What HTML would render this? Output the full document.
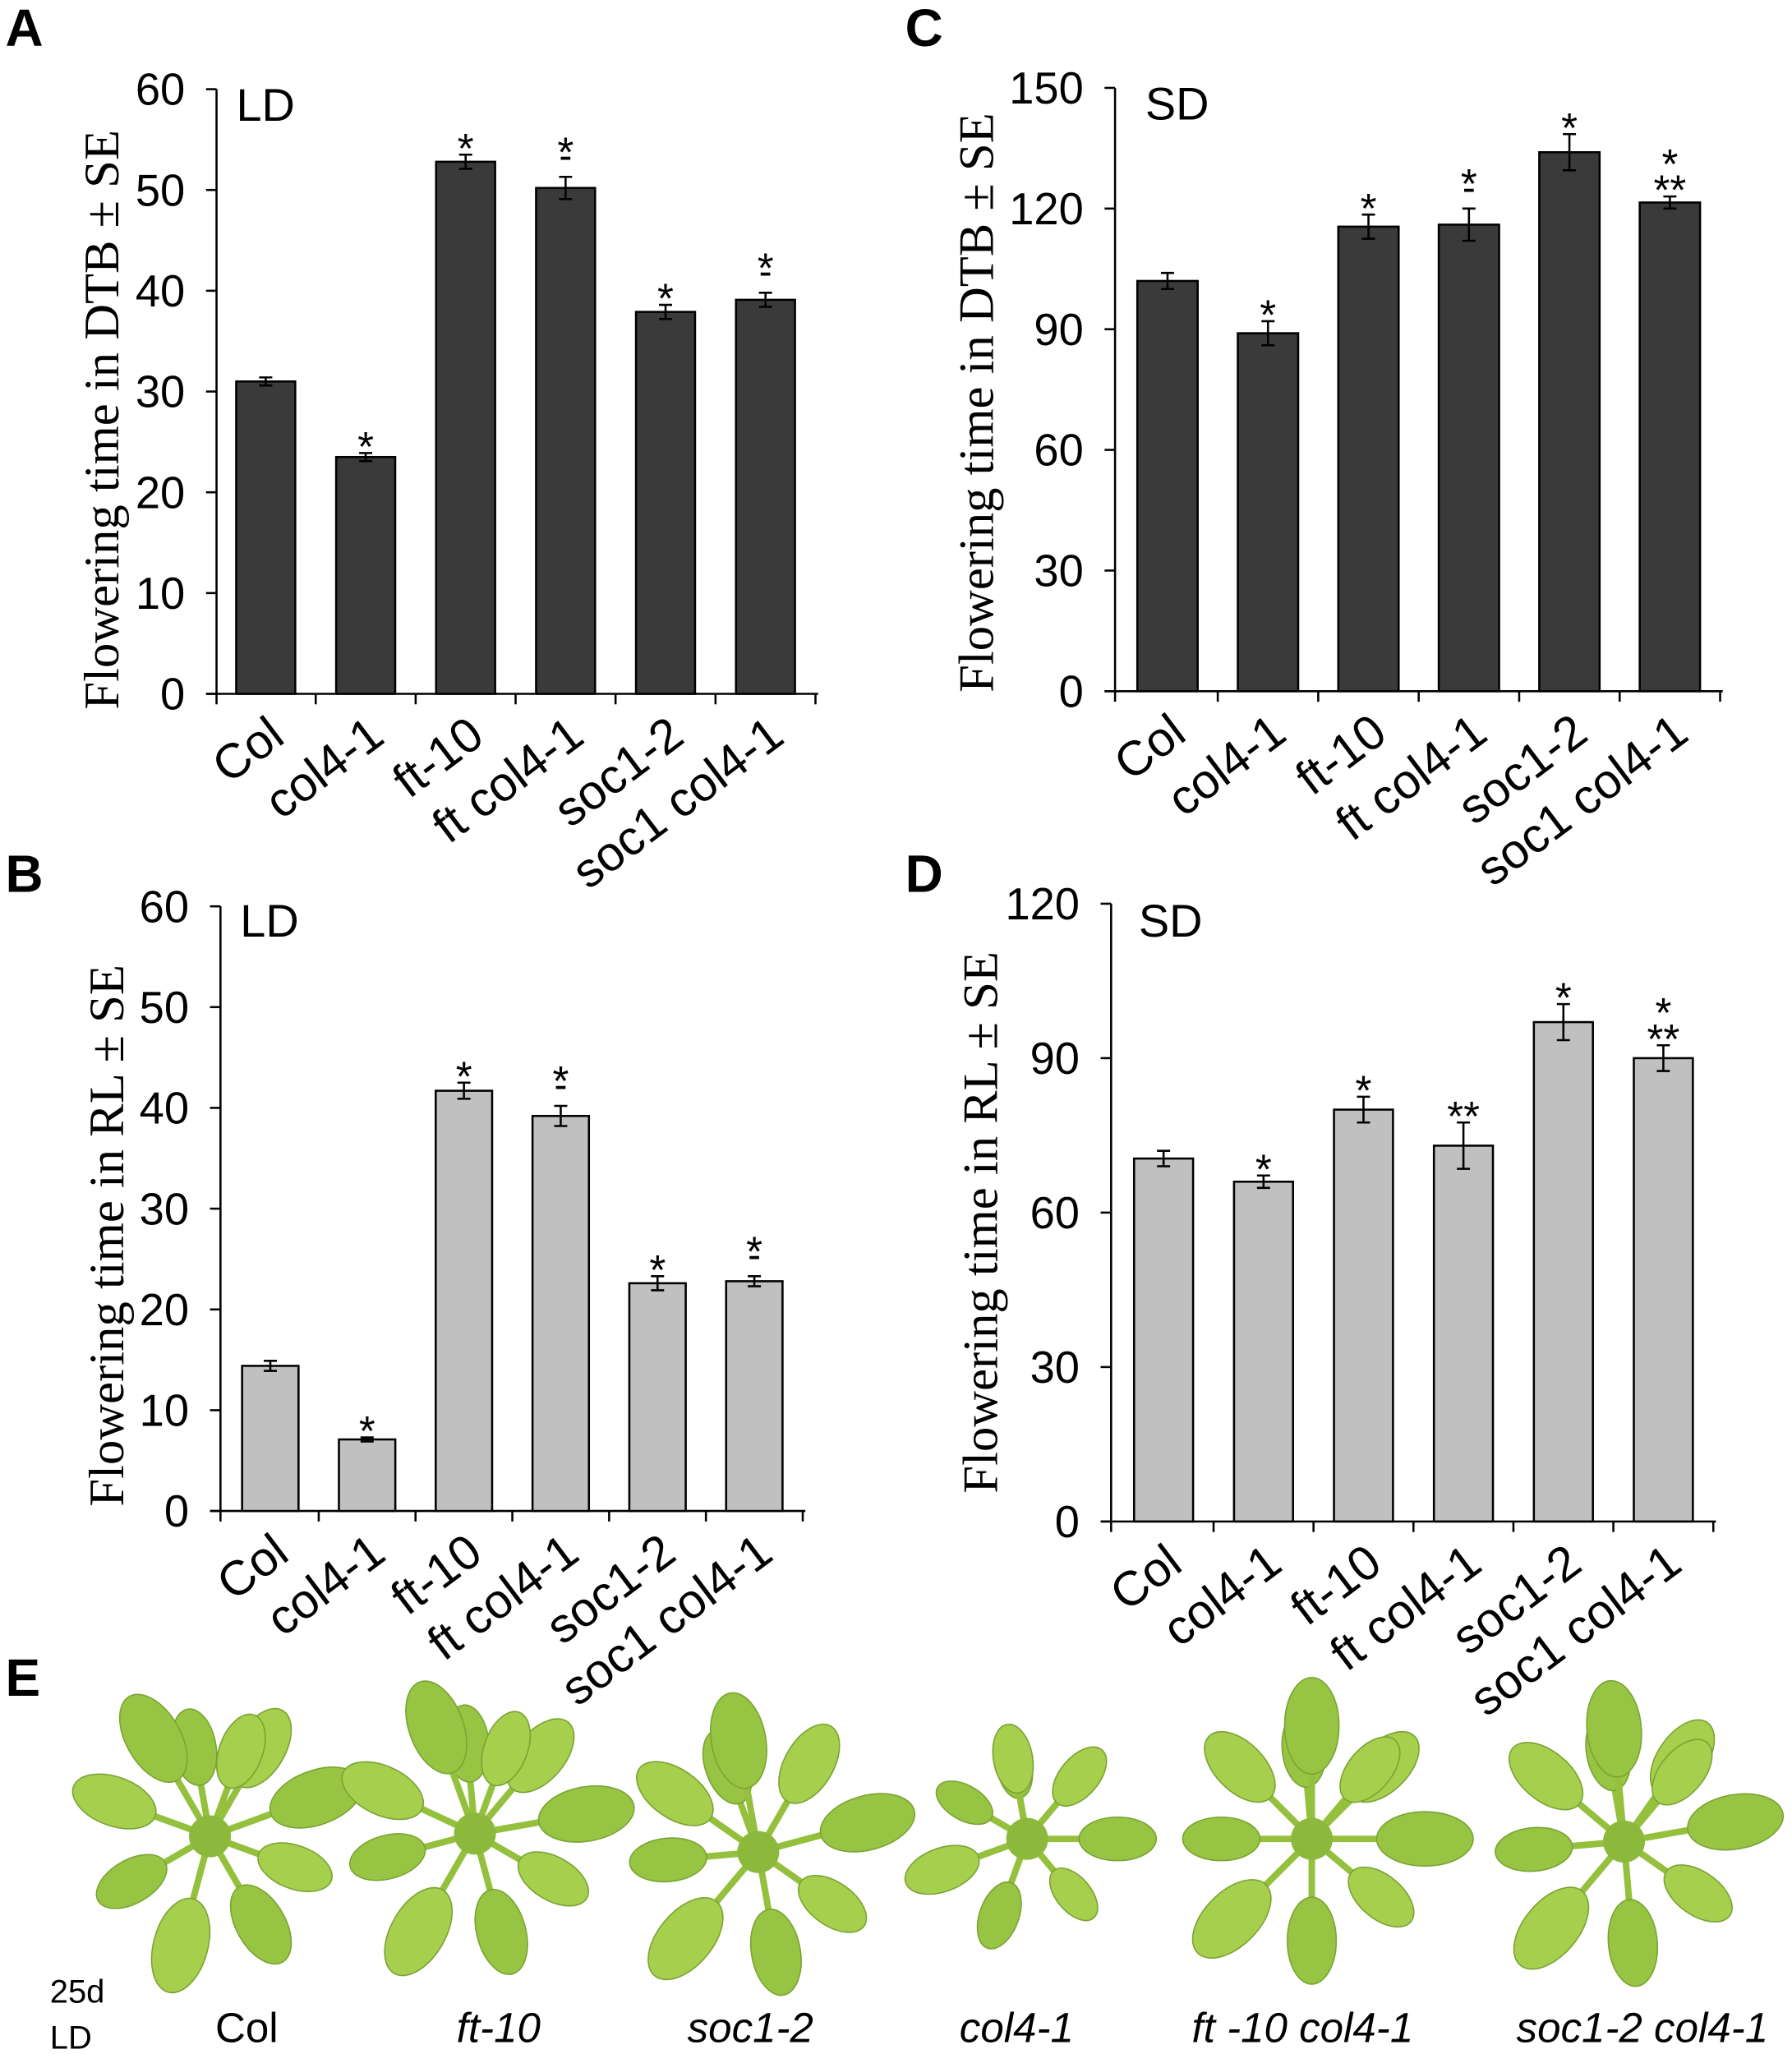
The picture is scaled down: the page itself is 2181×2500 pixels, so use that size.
<!DOCTYPE html>
<html><head><meta charset="utf-8"><style>
html,body{margin:0;padding:0;background:#fff}
svg{display:block}
text{font-family:"Liberation Sans",Arial,sans-serif;fill:#000}
.serif{font-family:"Liberation Serif","Times New Roman",serif}
</style></head><body>
<svg id="fig" width="2181" height="2500" viewBox="0 0 1366 1566" xmlns="http://www.w3.org/2000/svg">
<g id="charts"></g>
<g id="plants"></g>
<text x="4" y="35" font-size="40" font-weight="bold">A</text>
<text x="690" y="35" font-size="40" font-weight="bold">C</text>
<text x="4" y="680" font-size="40" font-weight="bold">B</text>
<text x="690" y="680" font-size="40" font-weight="bold">D</text>
<text x="4" y="1293" font-size="40" font-weight="bold">E</text>
<text x="38" y="1527" font-size="25">25d</text>
<text x="38" y="1562" font-size="25">LD</text>
<text x="188" y="1557" font-size="32" text-anchor="middle">Col</text>
<text x="380" y="1557" font-size="32" font-style="italic" text-anchor="middle">ft-10</text>
<text x="572" y="1557" font-size="32" font-style="italic" text-anchor="middle">soc1-2</text>
<text x="775" y="1557" font-size="32" font-style="italic" text-anchor="middle">col4-1</text>
<text x="993" y="1557" font-size="32" font-style="italic" text-anchor="middle">ft -10 col4-1</text>
<text x="1252" y="1557" font-size="32" font-style="italic" text-anchor="middle">soc1-2 col4-1</text>
</svg>
<script>
const categories = ["Col","col4-1","ft-10","ft col4-1","soc1-2","soc1 col4-1"];
const valuesA = [31.0, 23.5, 52.8, 50.2, 37.9, 39.1];
const errorsA = [0.4, 0.4, 0.7, 1.1, 0.7, 0.7];
const marksA = ["", "*", "*", "*|-", "*", "*|-"];
const ticksA = [0,10,20,30,40,50,60];
const valuesC = [102, 89, 115.5, 116, 134, 121.5];
const errorsC = [2, 3, 3, 4, 4.5, 1.5];
const marksC = ["", "*", "*", "*|-", "*", "*|**"];
const ticksC = [0,30,60,90,120,150];
const valuesB = [14.4, 7.1, 41.7, 39.2, 22.6, 22.8];
const errorsB = [0.5, 0.2, 0.8, 1.0, 0.7, 0.5];
const marksB = ["", "*", "*", "*|-", "*", "*|-"];
const ticksB = [0,10,20,30,40,50,60];
const valuesD = [70.5, 66, 80, 73, 97, 90];
const errorsD = [1.5, 1.2, 2.5, 4.5, 3.5, 2.5];
const marksD = ["", "*", "*", "**", "*", "*|**"];
const ticksD = [0,30,60,90,120];

const NS="http://www.w3.org/2000/svg";
function mk(tag,attrs,parent){const e=document.createElementNS(NS,tag);for(const k in attrs)e.setAttribute(k,attrs[k]);parent.appendChild(e);return e;}

function chart(id,cfg,vals,errs,marks,ticks){
  const root=document.getElementById('charts');
  const g=mk('g',{},root);
  
  
  const ymax=ticks[ticks.length-1];
  const y=v=>cfg.y0-(v/ymax)*(cfg.y0-cfg.yTop);
  const x=i=>cfg.x0+cfg.first+i*cfg.step;
  const ya=mk('line',{x1:cfg.x0,y1:cfg.yTop,x2:cfg.x0,y2:cfg.y0,stroke:'#000','stroke-width':1.6},g);
  
  
  const xEnd=cfg.x0+cfg.first+5.5*cfg.step+2;
  const xa=mk('line',{x1:cfg.x0-8,y1:cfg.y0,x2:xEnd,y2:cfg.y0,stroke:'#000','stroke-width':1.6},g);
  
  
  ticks.forEach(t=>{
    mk('line',{x1:cfg.x0-8,x2:cfg.x0,y1:y(t),y2:y(t),stroke:'#000','stroke-width':1.6},g);
    const tl=mk('text',{x:cfg.x0-24,y:y(t)+12,'font-size':34,'text-anchor':'end'},g);
    tl.textContent=t;
    
    
  });
  mk('line',{x1:cfg.x0,x2:cfg.x0,y1:cfg.y0,y2:cfg.y0+8,stroke:'#000','stroke-width':1.6},g);
  for(let i=1;i<=6;i++){
    const tx=cfg.x0+cfg.first+(i-0.5)*cfg.step;
    mk('line',{x1:tx,x2:tx,y1:cfg.y0,y2:cfg.y0+8,stroke:'#000','stroke-width':1.6},g);
  }
  vals.forEach((v,i)=>{
    const cx=x(i);
    const b=mk('rect',{x:cx-cfg.bw/2,y:y(v),width:cfg.bw,height:cfg.y0-y(v),fill:cfg.fill,stroke:'#000','stroke-width':1.6},g);
    
    
    const eh=y(v+errs[i]),el=y(v-errs[i]);
    const eb=mk('path',{d:`M${cx},${eh}V${el}M${cx-5},${eh}H${cx+5}M${cx-5},${el}H${cx+5}`,stroke:'#000','stroke-width':1.6,fill:'none'},g);
    
    
    if(marks[i]){
      const parts=marks[i].split('|');
      let yy=eh-8;
      for(let p=parts.length-1;p>=0;p--){
        const s=parts[p];
        const t=mk('text',{x:cx,y:s==='-'?yy+2:yy+14,'font-size':s==='-'?30:32,'text-anchor':'middle'},g);
        t.textContent=s;
        
        
        yy-=s==='-'?14:20;
      }
    }
    const lx=cx+16, ly=cfg.y0+36;
    const lab=mk('text',{x:lx,y:ly,'font-size':37,'text-anchor':'end',transform:`rotate(-37 ${lx} ${ly})`},g);
    lab.textContent=categories[i];
    
    
  });
  const cond=mk('text',{x:cfg.x0+cfg.condDx,y:cfg.yTop+cfg.condDy,'font-size':35},g);
  cond.textContent=cfg.cond;
  
  
  const mid=cfg.ylc;
  const yl=mk('text',{x:cfg.ylx,y:mid,'font-size':38,'text-anchor':'middle',class:'serif',transform:`rotate(-90 ${cfg.ylx} ${mid})`},g);
  yl.textContent=cfg.ylabel;
  
  
}
chart('a',{x0:165,y0:529,yTop:68,first:37.5,step:76.2,bw:45,fill:'#3a3a3a',cond:'LD',condDx:15,condDy:24,ylx:90,ylc:320,ylabel:'Flowering time in DTB ± SE'},valuesA,errorsA,marksA,ticksA);
chart('c',{x0:850,y0:527,yTop:67,first:40,step:76.6,bw:46,fill:'#3a3a3a',cond:'SD',condDx:23,condDy:24,ylx:757,ylc:307,ylabel:'Flowering time in DTB ± SE'},valuesC,errorsC,marksC,ticksC);
chart('b',{x0:168,y0:1152,yTop:691,first:38,step:73.8,bw:43,fill:'#c0c0c0',cond:'LD',condDx:15,condDy:23,ylx:94,ylc:942,ylabel:'Flowering time in RL ± SE'},valuesB,errorsB,marksB,ticksB);
chart('d',{x0:847,y0:1160,yTop:689,first:40,step:76.2,bw:45,fill:'#c0c0c0',cond:'SD',condDx:21,condDy:25,ylx:760,ylc:932,ylabel:'Flowering time in RL ± SE'},valuesD,errorsD,marksD,ticksD);

const plantCenters=[[160,1400],[362,1398],[578,1412],[783,1402],[1000,1402],[1238,1404]];
const leafAngles=[[-100,-60,-20,20,60,105,150,200,240,290],[-95,-50,-10,30,75,120,165,205,250,290],[-110,-60,-15,35,80,130,175,215,260],[-100,-50,0,50,110,160,210,260],[-95,-45,0,40,90,135,180,225,270,310],[-100,-55,-10,35,85,130,175,220,265,310]];
const pg=document.getElementById('plants');
plantCenters.forEach((c,pi)=>{
  const g=mk('g',{},pg);
  
  
  leafAngles[pi].forEach((a,k)=>{
    const len=pi===3?92:115, r=a*Math.PI/180;
    const L=len*(0.8+0.2*((k*7)%3)/2);
    const ex=c[0]+Math.cos(r)*L*0.45, ey=c[1]+Math.sin(r)*L*0.45;
    mk('line',{x1:c[0],y1:c[1],x2:ex,y2:ey,stroke:'#95c03e','stroke-width':5},g);
    const lx=c[0]+Math.cos(r)*L*0.75, ly=c[1]+Math.sin(r)*L*0.75;
    mk('ellipse',{cx:lx,cy:ly,rx:L*0.32,ry:L*0.18,fill:k%2?'#a6cf4e':'#98c444',stroke:'#7aa332','stroke-width':1,transform:`rotate(${a} ${lx} ${ly})`},g);
  });
  mk('circle',{cx:c[0],cy:c[1],r:16,fill:'#8cb83c'},g);
});
</script>
</body></html>
